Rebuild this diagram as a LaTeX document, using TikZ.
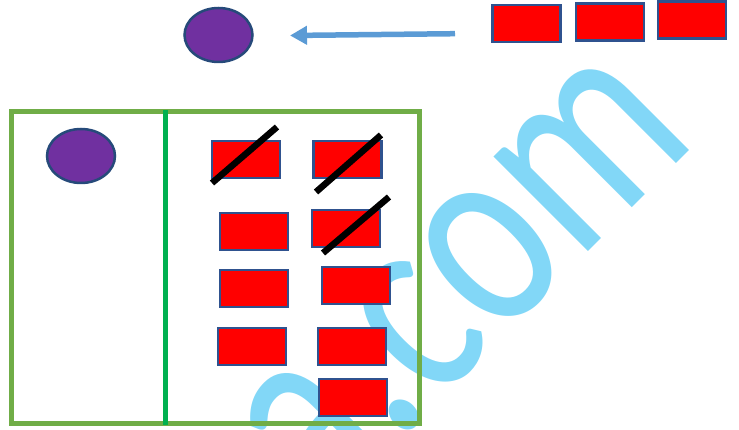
\documentclass[tikz,border=0pt]{standalone}
\usepackage{fontspec}
\usepackage{graphicx}
\usetikzlibrary{arrows.meta,shapes.geometric}
\newfontfamily\wmfont{Carlito}
\definecolor{wmblue}{HTML}{82D7F7}
\definecolor{boxblue}{HTML}{2F528F}
\definecolor{ellblue}{HTML}{264A7A}
\definecolor{purp}{HTML}{7030A0}
\definecolor{framegreen}{HTML}{70AD47}
\definecolor{divgreen}{HTML}{00B050}
\definecolor{arrowblue}{HTML}{5B9BD5}
\tikzset{
  redbox/.style={rectangle, draw=boxblue, line width=2.2pt, fill=red, minimum width=68pt, minimum height=37pt, inner sep=0pt},
  dot/.style={ellipse, draw=ellblue, line width=2.5pt, fill=purp, minimum width=68pt, minimum height=54pt, inner sep=0pt},
  strike/.style={line width=6.5pt, black},
}
\begin{document}
\begin{tikzpicture}[x=1pt,y=-1pt]
\useasboundingbox (0,0) rectangle (739,430);
\begin{scope}
\clip (0,0) rectangle (739,430);
% watermark
\node[rotate=45, anchor=base west, inner sep=0pt, text=wmblue] (wm) at (322.4,517.6)
  {\fontsize{280}{280}\wmfont\selectfont\scalebox{0.77}[1]{a.com}};
\end{scope}
% top row
\node[dot] (e1) at (218.5,35) {};
\node[redbox] (t1) at (526.5,23.3) {};
\node[redbox] (t2) at (610,22) {};
\node[redbox] (t3) at (692,20) {};
\coordinate (astart) at (455,33.7);
\coordinate (aend) at (290,35.5);
\draw[arrowblue, line width=5.5pt, -{Triangle[length=17pt,width=18pt]}] (astart) -- (aend);
% frame
\node[draw=framegreen, line width=5pt, rectangle, minimum width=408pt, minimum height=311pt, inner sep=0pt] (frame) at (215,267.5) {};
\coordinate (dtop) at (165.5,110);
\coordinate (dbot) at (165.5,425);
\draw[divgreen, line width=5pt] (dtop) -- (dbot);
\node[dot] (e2) at (81,156) {};
% boxes
\node[redbox] (r1) at (246,159.5) {};
\node[redbox] (r2) at (347.5,159.5) {};
\node[redbox] (r3) at (254,231.5) {};
\node[redbox] (r4) at (346,228.5) {};
\node[redbox] (r5) at (254,288.5) {};
\node[redbox] (r6) at (356,285.5) {};
\node[redbox] (r7) at (252,346.5) {};
\node[redbox] (r8) at (352,346.5) {};
\node[redbox] (r9) at (353,397.5) {};
% strikes
\coordinate (s1a) at (212,183); \coordinate (s1b) at (277,127);
\coordinate (s2a) at (316,192); \coordinate (s2b) at (381,135);
\coordinate (s3a) at (323,253); \coordinate (s3b) at (389,197);
\draw[strike] (s1a) -- (s1b);
\draw[strike] (s2a) -- (s2b);
\draw[strike] (s3a) -- (s3b);
\end{tikzpicture}
\end{document}
